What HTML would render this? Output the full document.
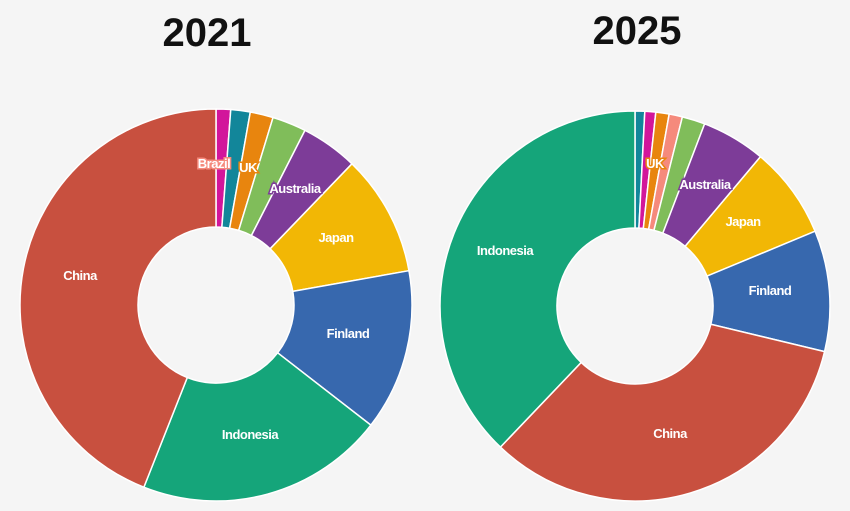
<!DOCTYPE html>
<html><head><meta charset="utf-8"><style>
body{margin:0;background:#f5f5f5;}
svg{display:block;font-family:"Liberation Sans",sans-serif;}
.lbl{fill:#fff;font-weight:bold;font-size:13px;text-anchor:middle;letter-spacing:-0.5px}
.title{font-size:40px;font-weight:bold;fill:#111;text-anchor:middle}
</style></head><body>
<svg id="chart" width="850" height="511">
<rect width="850" height="511" fill="#f5f5f5"/>
<text class="title" x="207" y="46">2021</text>
<text class="title" x="637" y="44">2025</text>
</svg>
<script>
const cats2021 = ['Magenta','Teal','Brazil','UK','Australia','Japan','Finland','Indonesia','China'];
const vals2021 = [1.2,1.6,1.9,2.8,4.7,10,13.3,20.5,44];
const cats2025 = ['Teal','Magenta','UK','Salmon','Green','Australia','Japan','Finland','China','Indonesia'];
const vals2025 = [0.8,0.9,1.1,1.1,1.9,5.3,7.6,10,33.3,37.8];
const colorMap = {Magenta:'#d2169b',Teal:'#12869a',Brazil:'#e8850e',UK:'#80bd5a',Australia:'#7d3c98',Japan:'#f2b705',Finland:'#3768ae',Indonesia:'#15a57a',China:'#c8503f',Salmon:'#f58a7c',Green:'#80bd5a'};
const colors2025 = {UK:'#e8850e'};
const NS='http://www.w3.org/2000/svg';
const svg=document.getElementById('chart');
function donut(cats,vals,cx,cy,R,r,year,override){
  const tot=vals.reduce((a,b)=>a+b,0);
  let a0=0;
  const g=document.createElementNS(NS,'g');
  
  
  svg.appendChild(g);
  cats.forEach((c,i)=>{
    const a1=a0+vals[i]/tot*2*Math.PI;
    const p=(a,rad)=>[cx+rad*Math.sin(a),cy-rad*Math.cos(a)];
    const [x0,y0]=p(a0,R),[x1,y1]=p(a1,R),[x2,y2]=p(a1,r),[x3,y3]=p(a0,r);
    const lg=(a1-a0)>Math.PI?1:0;
    const path=document.createElementNS(NS,'path');
    path.setAttribute('d',`M${x0},${y0}A${R},${R} 0 ${lg} 1 ${x1},${y1}L${x2},${y2}A${r},${r} 0 ${lg} 0 ${x3},${y3}Z`);
    path.setAttribute('fill',(override&&override[c])||colorMap[c]);
    path.setAttribute('stroke','#fff');
    path.setAttribute('stroke-width','1.5');
    
    
    g.appendChild(path);
    a0=a1;
  });
}
donut(cats2021,vals2021,216,305,196,78,'2021');
donut(cats2025,vals2025,635,306,195,78,'2025',colors2025);
const labels=[
 ['China',80,280,null],['Indonesia',250,439,null],['Finland',348,338,null],['Japan',336,242,null],
 ['Australia',295,193,'#7d3c98'],['UK',248,172,'#e8850e'],['Brazil',214,168,'#f58a7c'],
 ['Indonesia',505,255,null],['China',670,438,null],['Finland',770,295,null],['Japan',743,226,null],
 ['Australia',705,189,'#7d3c98'],['UK',655,168,'#e8850e']];
labels.forEach(([t,x,y,bg],i)=>{
  const tx=document.createElementNS(NS,'text');
  tx.setAttribute('class','lbl');
  tx.setAttribute('x',x);tx.setAttribute('y',y);
  tx.textContent=t;
  
  
  if(bg){tx.setAttribute('stroke',bg);tx.setAttribute('stroke-width','3');tx.setAttribute('paint-order','stroke');}
  svg.appendChild(tx);
});
</script>
</body></html>
